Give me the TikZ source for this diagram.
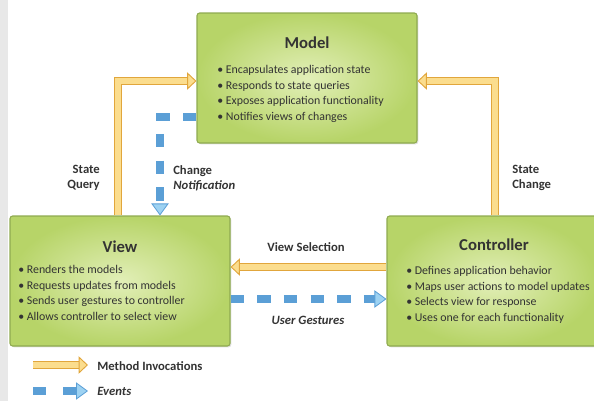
\documentclass[tikz,border=0pt]{standalone}
\usepackage{fontspec}
\setmainfont{Carlito}
\usetikzlibrary{arrows.meta,shadows}
\definecolor{boxin}{HTML}{E2EFB8}
\definecolor{boxout}{HTML}{B7D468}
\definecolor{boxedge}{HTML}{8FAA50}
\definecolor{yfill}{HTML}{FBDD8E}
\definecolor{yedge}{HTML}{E1A63C}
\definecolor{evblue}{HTML}{5B9FD6}
\definecolor{evlight}{HTML}{9DD2F2}
\definecolor{txt}{HTML}{333333}
\tikzset{
  box/.style={draw=boxedge, line width=0.8pt, rounded corners=2pt, inner color=boxin, outer color=boxout,
    drop shadow={opacity=0.25, shadow xshift=1pt, shadow yshift=-1pt}},
  boxtitle/.style={font=\fontsize{12.5}{14}\selectfont\bfseries, text=txt},
  bullets/.style={font=\fontsize{8.9}{11.7}\selectfont, text=txt, align=left, inner sep=0pt},
  flowlabel/.style={font=\fontsize{9.5}{11.2}\selectfont\bfseries, text=txt, inner sep=0pt},
  methodarrow/.style={draw=yedge, line width=0.7pt, double=yfill, double distance=4.4pt,
    -{Triangle[length=7pt, width=13pt, fill=yfill]}},
  eventarrow/.style={draw=evblue, line width=6pt, dash pattern=on 10pt off 10pt,
    -{Triangle[length=9pt, width=13pt, fill=evlight, color=evblue, line width=0.6pt]}}
}
\begin{document}
\begin{tikzpicture}[x=0.75pt, y=-0.75pt]
  \useasboundingbox (0,0) rectangle (594,401);
  \fill[gray!18] (0,0) rectangle (8,401);

  \node[box, minimum width=220*0.75pt, minimum height=130*0.75pt] (model) at (307,78) {};
  \node[box, minimum width=220*0.75pt, minimum height=130*0.75pt] (view) at (120,281) {};
  \node[box, minimum width=210*0.75pt, minimum height=130*0.75pt] (ctrl) at (492,281) {};

  \node[boxtitle] (modeltitle) at (307,43) {Model};
  \node[bullets, anchor=north west] (modeltext) at (217,65)
    {\textbullet\ Encapsulates application state\\
     \textbullet\ Responds to state queries\\
     \textbullet\ Exposes application functionality\\
     \textbullet\ Notifies views of changes};
  \node[boxtitle] (viewtitle) at (120,247) {View};
  \node[bullets, anchor=north west] (viewtext) at (18,265)
    {\textbullet\ Renders the models\\
     \textbullet\ Requests updates from models\\
     \textbullet\ Sends user gestures to controller\\
     \textbullet\ Allows controller to select view};
  \node[boxtitle] (ctrltitle) at (494,245) {Controller};
  \node[bullets, anchor=north west] (ctrltext) at (406,266)
    {\textbullet\ Defines application behavior\\
     \textbullet\ Maps user actions to model updates\\
     \textbullet\ Selects view for response\\
     \textbullet\ Uses one for each functionality};

  \coordinate (qcorner) at (118,81);
  \coordinate (ccorner) at (495,81);
  \coordinate (ncorner) at (160,117);
  \coordinate (vsel) at (0,267);
  \coordinate (ugest) at (0,299);

  \draw[methodarrow] (view.north -| qcorner) |- (model.west |- qcorner);
  \draw[methodarrow] (ctrl.north -| ccorner) |- (model.east |- ccorner);
  \draw[eventarrow] (model.west |- ncorner) -| (view.north -| ncorner);
  \draw[methodarrow] (ctrl.west |- vsel) -- (view.east |- vsel);
  \draw[eventarrow] (view.east |- ugest) -- (ctrl.west |- ugest);

  \node[flowlabel, align=right, anchor=east] (querylabel) at (100,178) {State\\Query};
  \node[flowlabel, align=left, anchor=west] (notelabel) at (173,178) {Change\\\textit{Notification}};
  \node[flowlabel, align=left, anchor=west] (changelabel) at (512,178) {State\\Change};
  \node[flowlabel] (vsellabel) at (306,247) {View Selection};
  \node[flowlabel] (ugestlabel) at (308,320) {\textit{User Gestures}};

  \coordinate (lm1) at (33,365);
  \coordinate (lm2) at (88,365);
  \coordinate (le1) at (33,391);
  \coordinate (le2) at (50,391);
  \coordinate (le3) at (63,391);
  \coordinate (le4) at (88,391);
  \draw[methodarrow] (lm1) -- (lm2);
  \draw[eventarrow, -] (le1) -- (le2);
  \draw[eventarrow, solid] (le3) -- (le4);
  \node[flowlabel, anchor=west] (methodlabel) at (97,366) {Method Invocations};
  \node[flowlabel, anchor=west] (eventlabel) at (97,391) {\textit{Events}};
\end{tikzpicture}
\end{document}
